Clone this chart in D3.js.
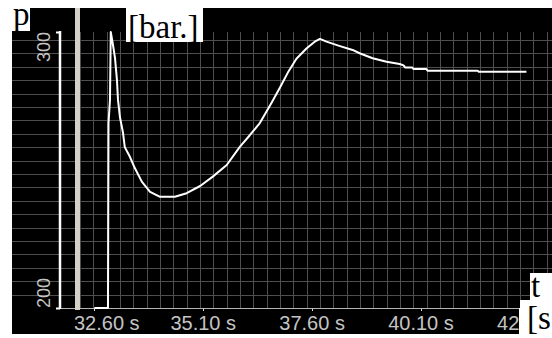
<!DOCTYPE html>
<html>
<head>
<meta charset="utf-8">
<script src="https://cdn.jsdelivr.net/npm/d3@7"></script>
<style>
  html, body { margin: 0; padding: 0; background: #fff; }
  svg { display: block; }
</style>
</head>
<body>
<div id="chart"></div>
<script>
// pressure trace
const timeS = [32.60, 32.914, 32.926, 32.96, 32.978, 33.029, 33.075, 33.12, 33.144, 33.19,
  33.26, 33.30, 33.42, 33.53, 33.69, 33.88, 34.11, 34.45, 34.72, 35.03,
  35.32, 35.64, 35.94, 36.17, 36.40, 36.67, 36.86, 37.04, 37.24, 37.47,
  37.66, 37.78, 37.93, 38.24, 38.53, 38.69, 38.99, 39.31, 39.61, 39.70,
  39.74, 39.90, 39.93, 40.22, 40.25, 41.40, 41.42, 42.52];
const pressureBar = [200, 200, 267.0, 275.4, 300, 295.3, 290.6, 282.6, 275.4, 269.0,
  263.4, 258.3, 254.7, 250.7, 245.8, 242.1, 240.3, 240.3, 241.6, 244.2,
  247.6, 251.8, 258.4, 262.6, 267.0, 274.4, 279.8, 285.2, 290.3, 294.0,
  296.5, 297.5, 296.5, 294.9, 293.5, 292.3, 290.5, 289.2, 288.4, 287.9,
  287.1, 287.1, 286.6, 286.6, 286.0, 286.0, 285.6, 285.6];
const xTicks = [32.60, 35.10, 37.60, 40.10, 42.60];
const yTicks = [200, 300];

const width = 552, height = 338;

const svg = d3.select('#chart')
  .append('svg')
  .attr('width', width)
  .attr('height', height);

const x = d3.scaleLinear().domain([32.6, 40.1]).range([94.3, 421]);
const y = d3.scaleLinear().domain([200, 300]).range([308, 32]);

// black panels
svg.append('rect').attr('x', 12).attr('y', 8).attr('width', width - 12).attr('height', 300).attr('fill', '#000');
svg.append('rect').attr('x', 12).attr('y', 308).attr('width', 507).attr('height', 26).attr('fill', '#000');

// grid (fixed pixel spacing, like the original instrument screen)
const grid = svg.append('g').attr('stroke', '#4e4e4e').attr('stroke-width', 1);
grid.selectAll('line.h')
  .data(d3.range(20))
  .enter()
  .append('line')
  .attr('x1', 12).attr('x2', width)
  .attr('y1', d => Math.round(40 + d * 13.4) + 0.5)
  .attr('y2', d => Math.round(40 + d * 13.4) + 0.5);
grid.selectAll('line.v')
  .data(d3.range(6, 42))
  .enter()
  .append('line')
  .attr('x1', d => Math.round(d * 13.333) + 0.5)
  .attr('x2', d => Math.round(d * 13.333) + 0.5)
  .attr('y1', 32).attr('y2', 308);

// x axis base line and ticks
svg.append('line')
  .attr('x1', 60).attr('x2', 519).attr('y1', 308.5).attr('y2', 308.5)
  .attr('stroke', '#b4b4b4');
svg.selectAll('line.xt')
  .data(xTicks)
  .enter()
  .append('line')
  .attr('x1', d => Math.round(x(d)) + 0.5)
  .attr('x2', d => Math.round(x(d)) + 0.5)
  .attr('y1', 309).attr('y2', 311)
  .attr('stroke', '#ddd');

const xLabels = svg.selectAll('text.xl')
  .data(xTicks)
  .enter()
  .append('text')
  .attr('class', 'xl')
  .attr('y', 330)
  .attr('fill', '#c4c4c4')
  .style('font-family', 'Liberation Sans, Arial, sans-serif')
  .style('font-size', '20px')
  .attr('text-anchor', 'middle')
  .text(d => d.toFixed(2) + ' s');
xLabels.attr('x', function (d) {
  const half = this.getComputedTextLength() / 2;
  return Math.max(x(d), 74 + half);
});

// cursor bar
svg.append('rect').attr('x', 75).attr('y', 8).attr('width', 5).attr('height', 302).attr('fill', '#d4d0c8');

// y axis bracket
const yAxis = d3.axisLeft(y).tickValues(yTicks).tickSize(4).tickFormat('');
const ya = svg.append('g').attr('transform', 'translate(60,0)').call(yAxis);
ya.select('.domain').remove();
ya.selectAll('line').attr('stroke', '#fff').attr('stroke-width', 2);
svg.append('line')
  .attr('x1', 60).attr('x2', 60).attr('y1', y(300) - 1).attr('y2', y(200) + 1)
  .attr('stroke', '#fff').attr('stroke-width', 2.5);

svg.selectAll('text.yl')
  .data(yTicks)
  .enter()
  .append('text')
  .attr('transform', d => `translate(50,${y(d)}) rotate(-90)`)
  .attr('text-anchor', d => d === 300 ? 'end' : 'start')
  .attr('fill', '#c4c4c4')
  .style('font-family', 'Liberation Sans, Arial, sans-serif')
  .style('font-size', '18px')
  .text(d => d);

// pressure curve
const line = d3.line()
  .x((d, i) => x(timeS[i]))
  .y(d => y(d));
svg.append('path')
  .datum(pressureBar)
  .attr('d', line)
  .attr('fill', 'none')
  .attr('stroke', '#fff')
  .attr('stroke-width', 2)
  .attr('stroke-linejoin', 'round');

// white label boxes
const boxes = [
  { x: 12, y: 0, w: 18, h: 31, text: 'p', tx: 13, ty: 25 },
  { x: 126, y: 0, w: 77, h: 42, text: '[bar.]', tx: 128, ty: 38 },
  { x: 530, y: 273, w: 22, h: 27, text: 't', tx: 531, ty: 297 },
  { x: 520, y: 300, w: 32, h: 38, text: '[s', tx: 527, ty: 329 }
];
const lbl = svg.selectAll('g.box')
  .data(boxes)
  .enter()
  .append('g');
lbl.append('rect')
  .attr('x', d => d.x).attr('y', d => d.y)
  .attr('width', d => d.w).attr('height', d => d.h)
  .attr('fill', '#fff');
lbl.append('text')
  .attr('x', d => d.tx).attr('y', d => d.ty)
  .style('font-family', 'Liberation Serif, Times New Roman, serif')
  .style('font-size', '33px')
  .attr('fill', '#000')
  .text(d => d.text);
</script>
</body>
</html>
